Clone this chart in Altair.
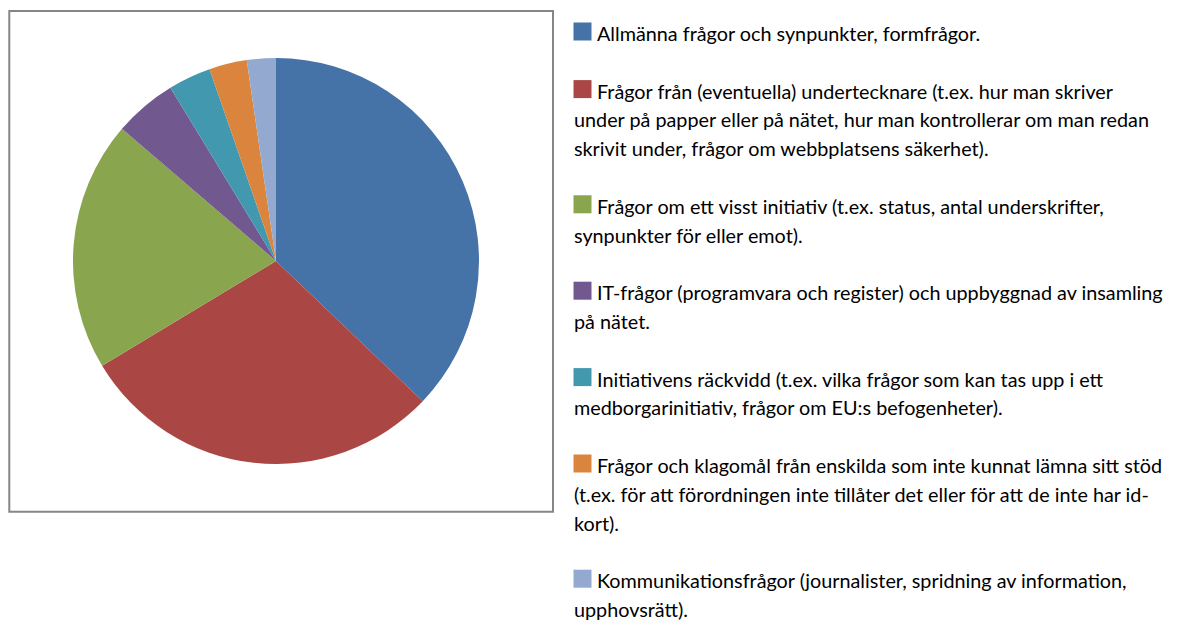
import altair as alt
import pandas as pd

# Categories (legend order = slice order, clockwise from 12 o'clock)
categories = [
    "Allmänna frågor och synpunkter, formfrågor.",
    "Frågor från (eventuella) undertecknare",
    "Frågor om ett visst initiativ",
    "IT-frågor",
    "Initiativens räckvidd",
    "Frågor och klagomål från enskilda",
    "Kommunikationsfrågor",
]
# Slice shares (percent)
shares = [37.1, 29.2, 19.9, 5.0, 3.4, 3.0, 2.3]
colors = ["#4572A7", "#AA4643", "#89A54E", "#71588F", "#4198AF", "#DB843D", "#93A9CF"]

# Legend paragraphs, wrapped as in the original
legend_lines = [
    ["Allmänna frågor och synpunkter, formfrågor."],
    ["Frågor från (eventuella) undertecknare (t.ex. hur man skriver",
     "under på papper eller på nätet, hur man kontrollerar om man redan",
     "skrivit under, frågor om webbplatsens säkerhet)."],
    ["Frågor om ett visst initiativ (t.ex. status, antal underskrifter,",
     "synpunkter för eller emot)."],
    ["IT-frågor (programvara och register) och uppbyggnad av insamling",
     "på nätet."],
    ["Initiativens räckvidd (t.ex. vilka frågor som kan tas upp i ett",
     "medborgarinitiativ, frågor om EU:s befogenheter)."],
    ["Frågor och klagomål  från enskilda som inte kunnat lämna sitt stöd",
     "(t.ex. för att förordningen inte tillåter det eller för att de inte har id-",
     "kort)."],
    ["Kommunikationsfrågor (journalister, spridning av information,",
     "upphovsrätt)."],
]

# ---- tables built from the arrays ----
pie_df = pd.DataFrame({"cat": categories, "value": shares, "idx": list(range(len(categories)))})

first_rows, cont_rows, sq_rows = [], [], []
line = 0
for cat, lines in zip(categories, legend_lines):
    sq_rows.append({"cat": cat, "line": line})
    for j, t in enumerate(lines):
        (first_rows if j == 0 else cont_rows).append({"text": t, "line": line})
        line += 1
    line += 1  # blank line between paragraphs
first_df = pd.DataFrame(first_rows)
cont_df = pd.DataFrame(cont_rows)
sq_df = pd.DataFrame(sq_rows)

n_lines = line - 2
yscale = alt.Scale(domain=[0, n_lines], range=[33, 33 + 28.8 * n_lines])
cscale = alt.Scale(domain=categories, range=colors)
FONT = "Lato"
FS = 19.8

box = alt.Chart(alt.Data(values=[{}])).mark_rect(
    fill="white", stroke="#868686", strokeWidth=2
).encode(x=alt.value(1.3), x2=alt.value(545), y=alt.value(3), y2=alt.value(503.7))

pie = alt.Chart(pie_df).mark_arc(radius=203).encode(
    theta=alt.Theta("value:Q", stack=True),
    order=alt.Order("idx:Q"),
    color=alt.Color("cat:N", scale=cscale, legend=None),
    x=alt.value(268),
    y=alt.value(253),
)

squares = alt.Chart(sq_df).mark_square(size=18 * 18, opacity=1, yOffset=-9.5).encode(
    x=alt.value(574.5),
    y=alt.Y("line:Q", scale=yscale, axis=None),
    color=alt.Color("cat:N", scale=cscale, legend=None),
)

txt_first = alt.Chart(first_df).mark_text(
    align="left", baseline="alphabetic", font=FONT, fontSize=FS, color="#000000"
).encode(x=alt.value(589), y=alt.Y("line:Q", scale=yscale, axis=None), text="text:N")

txt_cont = alt.Chart(cont_df).mark_text(
    align="left", baseline="alphabetic", font=FONT, fontSize=FS, color="#000000"
).encode(x=alt.value(566), y=alt.Y("line:Q", scale=yscale, axis=None), text="text:N")

chart = alt.layer(box, pie, squares, txt_first, txt_cont).properties(
    width=1164, height=615,
    autosize=alt.AutoSizeParams(type="none"),
    padding=0,
).configure_view(stroke=None)

chart.save("out.html", embed_options={"renderer": "svg", "actions": False})
